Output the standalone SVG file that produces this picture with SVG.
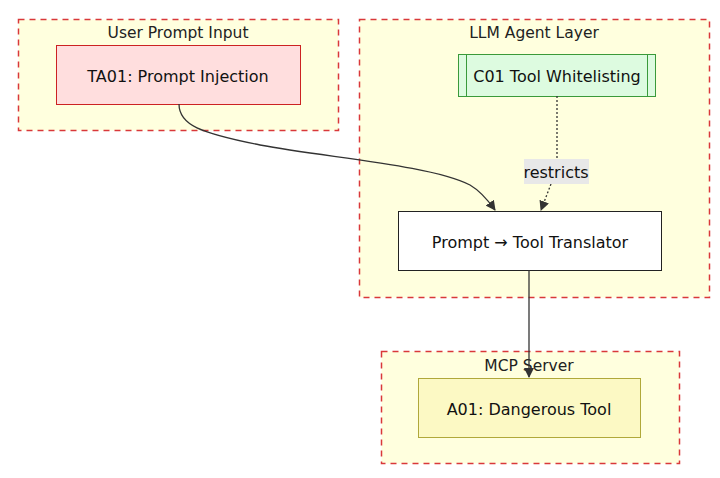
<svg xmlns="http://www.w3.org/2000/svg" width="720" height="478" viewBox="0 0 720 478">
<defs>
<style>
.cluster{fill:#ffffde;stroke:#d9383a;stroke-width:1.5;stroke-dasharray:6,5}
.ctitle{font-family:"DejaVu Sans",Verdana,sans-serif;font-size:15.5px;fill:#222;text-anchor:middle}
.label{font-family:"DejaVu Sans",Verdana,sans-serif;font-size:16px;fill:#111;text-anchor:middle;dominant-baseline:central}
.edge{fill:none;stroke:#333;stroke-width:1.3}
.dotted{stroke-dasharray:2,2}
</style>
<marker id="arrow" viewBox="0 0 10 10" refX="9" refY="5" markerWidth="10" markerHeight="10" orient="auto-start-reverse" markerUnits="userSpaceOnUse">
<path d="M0,0 L10,5 L0,10 z" fill="#333"/>
</marker>
</defs>
<rect width="720" height="478" fill="#ffffff"/>
<g id="cluster-user">
<rect class="cluster" x="18.5" y="19.5" width="320" height="111"/>
<text class="ctitle" x="178" y="38">User Prompt Input</text>
</g>
<g id="cluster-llm">
<rect class="cluster" x="359.5" y="19.5" width="350" height="278"/>
<text class="ctitle" x="534" y="38">LLM Agent Layer</text>
</g>
<g id="cluster-mcp">
<rect class="cluster" x="381.5" y="351.5" width="298" height="112"/>
<text class="ctitle" x="529" y="371">MCP Server</text>
</g>
<g id="TA01">
<rect x="56.5" y="45.5" width="244" height="59" fill="#ffdede" stroke="#cc2222" stroke-width="1"/>
<text class="label" x="178" y="76">TA01: Prompt Injection</text>
</g>
<g id="C01">
<rect x="458.5" y="54.5" width="197" height="42" fill="#ddfbe0" stroke="#3a9a3a" stroke-width="1"/>
<line x1="466.5" y1="54.5" x2="466.5" y2="96.5" stroke="#3a9a3a"/>
<line x1="647.5" y1="54.5" x2="647.5" y2="96.5" stroke="#3a9a3a"/>
<text class="label" x="557" y="76">C01 Tool Whitelisting</text>
</g>
<g id="translator">
<rect x="398.5" y="211.5" width="263" height="59" fill="#ffffff" stroke="#222" stroke-width="1"/>
<text class="label" x="530" y="242">Prompt → Tool Translator</text>
</g>
<g id="A01">
<rect x="418.5" y="378.5" width="222" height="59" fill="#fcf9c4" stroke="#b0a83a" stroke-width="1"/>
<text class="label" x="529" y="409">A01: Dangerous Tool</text>
</g>
<g id="connectors">
<path class="edge" d="M179,104 C179,125 200,133 260,145 C330,158 430,165 470,185 C482,192 490,203 495,210" marker-end="url(#arrow)"/>
<path class="edge dotted" d="M557,96 L557,160"/>
<path class="edge dotted" d="M551,184 L541,210" marker-end="url(#arrow)"/>
<rect x="524" y="159" width="65" height="25" fill="#e8e8e8"/>
<text class="label" x="556" y="172">restricts</text>
<path class="edge" d="M529,270 L529,377" marker-end="url(#arrow)"/>
</g>
</svg>
